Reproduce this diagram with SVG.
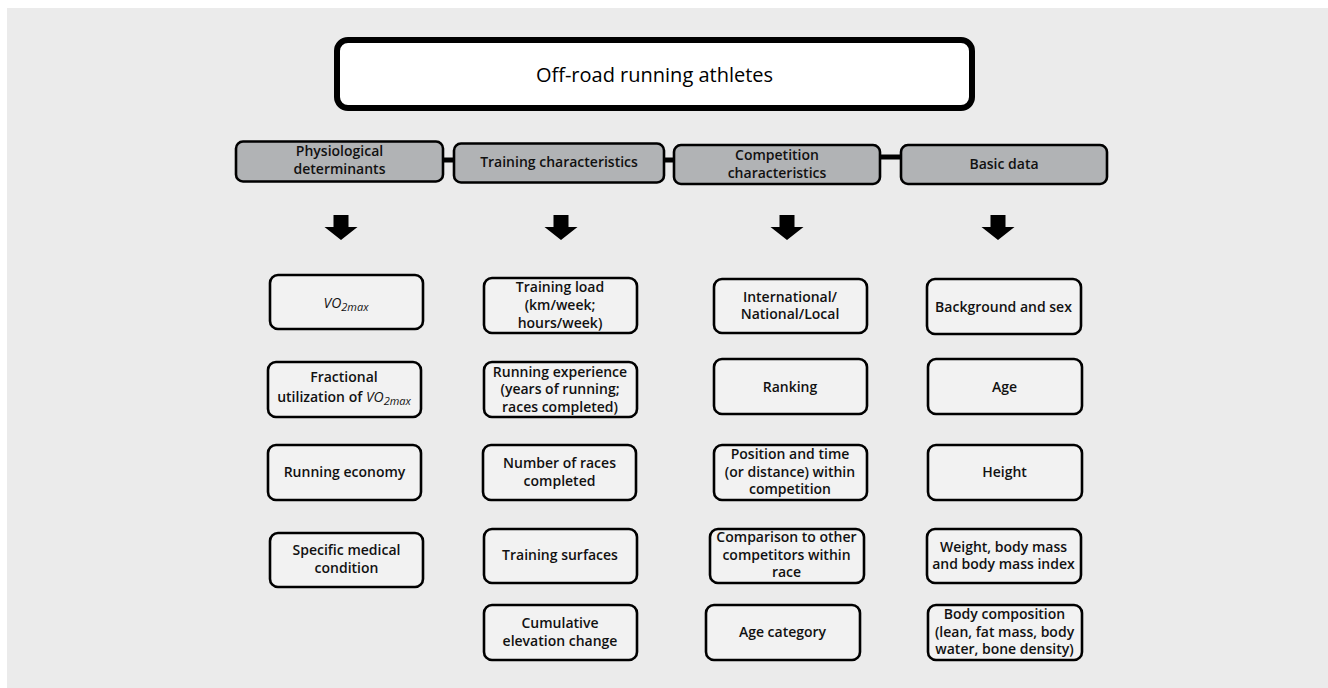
<svg xmlns="http://www.w3.org/2000/svg" width="1328" height="688" viewBox="0 0 1328 688">
<defs>
<style>
.bg{fill:#ebebeb}
.title{fill:#fff;stroke:#000;stroke-width:6}
.cat{fill:#b1b3b5;stroke:#000;stroke-width:2.6}
.leaf{fill:#f2f2f2;stroke:#000;stroke-width:2.6}
.link{stroke:#000;stroke-width:5}
.arrow{fill:#000}
text{font-family:"Open Sans","Liberation Sans",sans-serif;font-size:14px;font-weight:600;fill:#111;text-anchor:middle}
.t1{font-size:20px;font-weight:400;fill:#000}
.it{font-style:italic;font-weight:400}
</style>
<path id="arr" d="M-7.5,-25 H7.5 V-13 H16.5 L0,0 L-16.5,-13 H-7.5 Z"/>
</defs>
<rect class="bg" x="7" y="8" width="1321" height="680"/>

<g id="connectors">
<line class="link" x1="443" y1="160" x2="454" y2="160"/>
<line class="link" x1="664" y1="160" x2="674" y2="160"/>
<line class="link" x1="880" y1="157" x2="901" y2="157"/>
<use href="#arr" class="arrow" x="341" y="240"/>
<use href="#arr" class="arrow" x="561" y="240"/>
<use href="#arr" class="arrow" x="787" y="240"/>
<use href="#arr" class="arrow" x="998" y="240"/>
</g>

<g id="title">
<rect class="title" x="337" y="40" width="635" height="68" rx="11"/>
<text class="t1" x="654.5" y="82">Off-road running athletes</text>
</g>

<g id="cat-physiological">
<rect class="cat" x="236" y="141.5" width="207" height="40" rx="7"/>
<text x="339.5" y="156">Physiological</text>
<text x="339.5" y="174">determinants</text>
</g>
<g id="cat-training">
<rect class="cat" x="454" y="143.5" width="210" height="39" rx="7"/>
<text x="559" y="167">Training characteristics</text>
</g>
<g id="cat-competition">
<rect class="cat" x="674" y="145" width="206" height="39" rx="7"/>
<text x="777" y="160">Competition</text>
<text x="777" y="178">characteristics</text>
</g>
<g id="cat-basic">
<rect class="cat" x="901" y="145" width="206" height="39" rx="7"/>
<text x="1004" y="169">Basic data</text>
</g>

<!-- Column 1 -->
<g id="vo2max">
<rect class="leaf" x="270" y="275" width="153" height="54" rx="8"/>
<text x="346" y="308"><tspan class="it">VO</tspan><tspan class="it" font-size="11" dy="3">2max</tspan></text>
</g>
<g id="fractional">
<rect class="leaf" x="268" y="362" width="153" height="55" rx="8"/>
<text x="344" y="382">Fractional</text>
<text x="344" y="402">utilization of <tspan class="it">VO</tspan><tspan class="it" font-size="11" dy="3">2max</tspan></text>
</g>
<g id="running-economy">
<rect class="leaf" x="268" y="445" width="153" height="55" rx="8"/>
<text x="344.5" y="477">Running economy</text>
</g>
<g id="medical">
<rect class="leaf" x="270" y="533" width="153" height="54" rx="8"/>
<text x="346.5" y="555">Specific medical</text>
<text x="346.5" y="573">condition</text>
</g>

<!-- Column 2 -->
<g id="training-load">
<rect class="leaf" x="484" y="278" width="153" height="55" rx="8"/>
<text x="560" y="292">Training load</text>
<text x="560" y="310">(km/week;</text>
<text x="560" y="328">hours/week)</text>
</g>
<g id="running-experience">
<rect class="leaf" x="484" y="362" width="153" height="55" rx="8"/>
<text x="560" y="377">Running experience</text>
<text x="560" y="394">(years of running;</text>
<text x="560" y="412">races completed)</text>
</g>
<g id="number-races">
<rect class="leaf" x="483" y="445" width="153" height="55" rx="8"/>
<text x="559.5" y="468">Number of races</text>
<text x="559.5" y="486">completed</text>
</g>
<g id="training-surfaces">
<rect class="leaf" x="484" y="529" width="153" height="54" rx="8"/>
<text x="560" y="560">Training surfaces</text>
</g>
<g id="elevation">
<rect class="leaf" x="484" y="605" width="153" height="55" rx="8"/>
<text x="560" y="628">Cumulative</text>
<text x="560" y="646">elevation change</text>
</g>

<!-- Column 3 -->
<g id="international">
<rect class="leaf" x="714" y="279" width="153" height="54" rx="8"/>
<text x="790" y="302">International/</text>
<text x="790" y="319">National/Local</text>
</g>
<g id="ranking">
<rect class="leaf" x="714" y="359" width="153" height="55" rx="8"/>
<text x="790" y="392">Ranking</text>
</g>
<g id="position">
<rect class="leaf" x="714" y="445" width="153" height="55" rx="8"/>
<text x="790" y="459">Position and time</text>
<text x="790" y="477">(or distance) within</text>
<text x="790" y="494">competition</text>
</g>
<g id="comparison">
<rect class="leaf" x="710" y="529" width="154" height="54" rx="8"/>
<text x="786.5" y="542">Comparison to other</text>
<text x="786.5" y="560">competitors within</text>
<text x="786.5" y="577">race</text>
</g>
<g id="age-category">
<rect class="leaf" x="706" y="605" width="154" height="55" rx="8"/>
<text x="782.5" y="637">Age category</text>
</g>

<!-- Column 4 -->
<g id="background-sex">
<rect class="leaf" x="927" y="279" width="154" height="55" rx="8"/>
<text x="1003.5" y="312">Background and sex</text>
</g>
<g id="age">
<rect class="leaf" x="928" y="359" width="154" height="55" rx="8"/>
<text x="1004.5" y="392">Age</text>
</g>
<g id="height">
<rect class="leaf" x="928" y="445" width="154" height="55" rx="8"/>
<text x="1004.5" y="477">Height</text>
</g>
<g id="weight">
<rect class="leaf" x="927" y="529" width="154" height="54" rx="8"/>
<text x="1003.5" y="552">Weight, body mass</text>
<text x="1003.5" y="569">and body mass index</text>
</g>
<g id="body-composition">
<rect class="leaf" x="928" y="605" width="154" height="55" rx="8"/>
<text x="1004.5" y="619">Body composition</text>
<text x="1004.5" y="637">(lean, fat mass, body</text>
<text x="1004.5" y="654">water, bone density)</text>
</g>
</svg>
